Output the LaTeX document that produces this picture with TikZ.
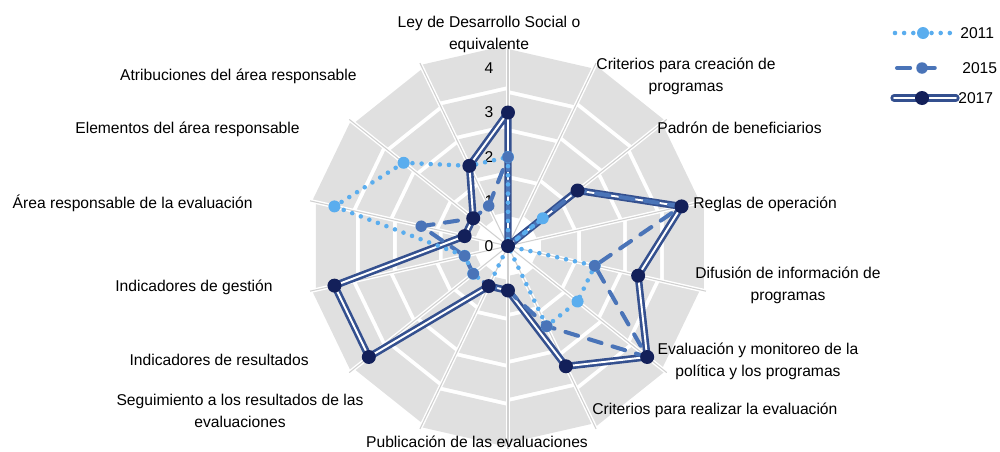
\documentclass[tikz,border=0pt]{standalone}
\usepackage{fontspec}
\setmainfont{Liberation Sans}

\definecolor{bandgray}{HTML}{E0E0E0}
\definecolor{spokegray}{HTML}{D0D0D0}
\definecolor{blueA}{HTML}{5AADEE}
\definecolor{blueB}{HTML}{4A74B8}
\definecolor{blueC}{HTML}{34508F}
\definecolor{navyC}{HTML}{13205A}

\tikzset{
  band/.style={fill=bandgray},
  spoke/.style={spokegray, line width=0.6pt},
  spokegap/.style={white, line width=2.2pt},
  catlabel/.style={font=\fontsize{8.9}{12.5}\selectfont, inner sep=0pt, align=center},
  ticklabel/.style={font=\fontsize{8.9}{10}\selectfont, inner sep=0pt},
  serA/.style={blueA, line width=2.6pt, line cap=round, dash pattern=on 0pt off 5.2pt},
  serB/.style={blueB, line width=2.3pt, line cap=round, dash pattern=on 7.5pt off 6.5pt},
  serC/.style={draw=blueC, line width=1.5pt, double=white, double distance=1.1pt, line join=round, line cap=round},
  markA/.style={circle, fill=blueA, inner sep=0pt, minimum size=0.24cm},
  markB/.style={circle, fill=blueB, inner sep=0pt, minimum size=0.23cm},
  markC/.style={circle, fill=navyC, inner sep=0pt, minimum size=0.28cm}
}

\begin{document}
\begin{tikzpicture}[x=0.02cm, y=0.02cm]

\useasboundingbox (-508,-205) rectangle (492,246);

% grey bands, one piece per sector
\foreach \k in {0,...,13}{
  \pgfmathsetmacro\aa{90-\k*360/14}
  \pgfmathsetmacro\ab{90-(\k+1)*360/14}
  \pgfmathsetmacro\off{mod(\k,2)*4}
  \foreach \ri/\ro in {30/67,71/114,118/152,156/197}{
    \fill[band] (\aa:{\ri+\off}) -- (\aa:{\ro+\off}) -- (\ab:{\ro+\off}) -- (\ab:{\ri+\off}) -- cycle;
  }
}

% spokes
\foreach \k in {0,...,13}{
  \draw[spokegap] (0,0) -- ({90-\k*360/14}:203);
  \draw[spoke] (0,0) -- ({90-\k*360/14}:203);
}

% scale
\foreach \v in {0,...,4}
  \node[ticklabel] (tick\v) at (-19,{\v*44.5}) {\v};

% data points
\foreach \v [count=\i from 0] in {2,0,1,0,2,2,2,0,1,1,1,4,3,2}
  \coordinate (a\i) at ({90-\i*360/14}:{\v*44.5});
\foreach \v [count=\i from 0] in {2,0,2,4,2,4,2,1,1,1,1,2,1,1}
  \coordinate (b\i) at ({90-\i*360/14}:{\v*44.5});
\foreach \v [count=\i from 0] in {3,0,2,4,3,4,3,1,1,4,4,1,1,2}
  \coordinate (c\i) at ({90-\i*360/14}:{\v*44.5});

% series lines
\draw[serC] (c0) \foreach \i in {1,...,13}{ -- (c\i)} -- cycle;
\draw[serB] (b0) \foreach \i in {1,...,13}{ -- (b\i)} -- cycle;
\draw[serA] (a0) \foreach \i in {1,...,13}{ -- (a\i)} -- cycle;

% markers
\foreach \i in {0,...,13} \node[markA] (ma\i) at (a\i) {};
\foreach \i in {0,...,13} \node[markB] (mb\i) at (b\i) {};
\foreach \i in {0,...,13} \node[markC] (mc\i) at (c\i) {};

% category labels
\node[catlabel] (lab0) at (-19,212) {Ley de Desarrollo Social o\\equivalente};
\node[catlabel] (lab1) at (178,170) {Criterios para creación de\\programas};
\node[catlabel, anchor=west] (lab2) at (149,118) {Padrón de beneficiarios};
\node[catlabel, anchor=west] (lab3) at (185,42) {Reglas de operación};
\node[catlabel] (lab4) at (280,-39) {Difusión de información de\\programas};
\node[catlabel] (lab5) at (250,-115) {Evaluación y monitoreo de la\\política y los programas};
\node[catlabel, anchor=west] (lab6) at (84,-164) {Criterios para realizar la evaluación};
\node[catlabel] (lab7) at (-31,-196) {Publicación de las evaluaciones};
\node[catlabel] (lab8) at (-268,-165) {Seguimiento a los resultados de las\\evaluaciones};
\node[catlabel, anchor=east] (lab9) at (-199,-114) {Indicadores de resultados};
\node[catlabel, anchor=east] (lab10) at (-235,-41) {Indicadores de gestión};
\node[catlabel, anchor=east] (lab11) at (-255,43) {Área responsable de la evaluación};
\node[catlabel, anchor=east] (lab12) at (-208,117) {Elementos del área responsable};
\node[catlabel, anchor=east] (lab13) at (-151,170) {Atribuciones del área responsable};

% legend
\coordinate (legA1) at (387,213);
\coordinate (legA2) at (447,213);
\coordinate (legB1) at (389,178);
\coordinate (legB2) at (437,178);
\coordinate (legC1) at (386,148);
\coordinate (legC2) at (448,148);
\draw[serA] (legA1) -- (legA2);
\draw[serB] (legB1) -- (legB2);
\draw[serC] (legC1) -- (legC2);
\node[markA] (legAdot) at (415,213) {};
\node[markB] (legBdot) at (414,178) {};
\node[markC] (legCdot) at (414,148) {};
\node[catlabel, anchor=west] (legAtxt) at (452,213) {2011};
\node[catlabel, anchor=west] (legBtxt) at (454,178) {2015};
\node[catlabel, anchor=west] (legCtxt) at (450,148) {2017};

\end{tikzpicture}
\end{document}
